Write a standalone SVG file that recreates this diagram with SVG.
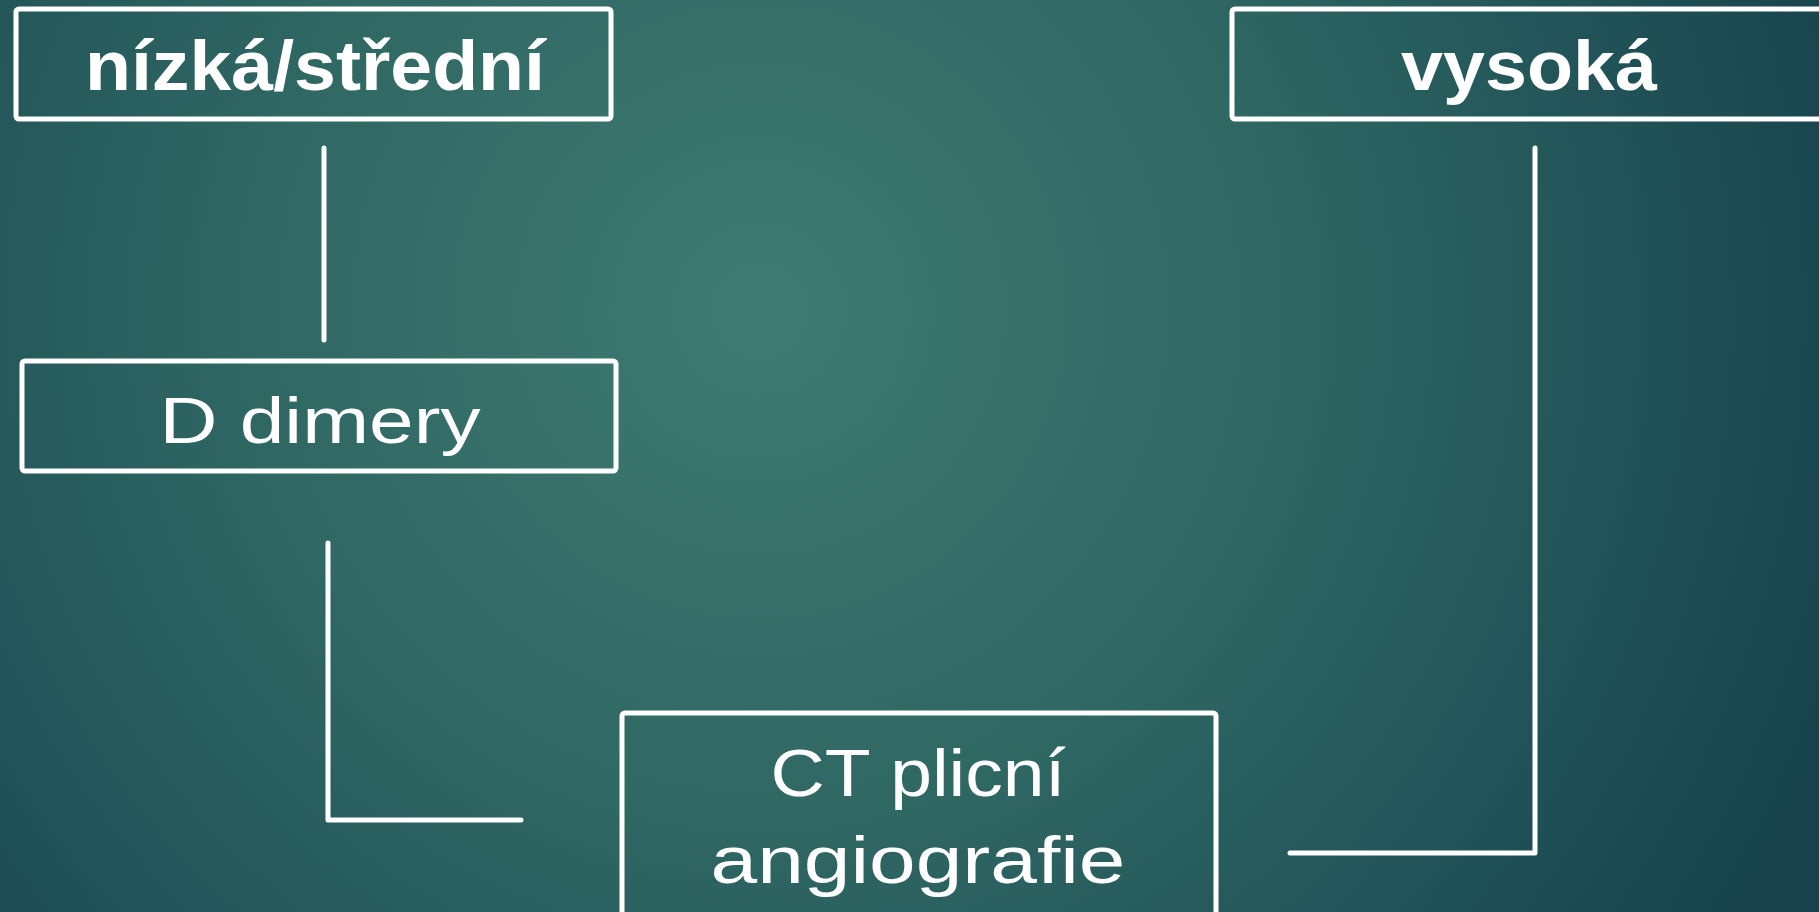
<svg xmlns="http://www.w3.org/2000/svg" width="1819" height="912" viewBox="0 0 1819 912">
<defs>
<radialGradient id="bg" cx="760" cy="310" r="1150" gradientUnits="userSpaceOnUse">
<stop offset="0" stop-color="#3f7b71"/>
<stop offset="0.45" stop-color="#2f6763"/>
<stop offset="0.8" stop-color="#1f5056"/>
<stop offset="1" stop-color="#17424b"/>
</radialGradient>
<style>
.box{fill:none;stroke:#ffffff;stroke-width:5}
.ln{fill:none;stroke:#ffffff;stroke-width:5;stroke-linecap:round;stroke-linejoin:round}
.hd{font-family:"Liberation Sans",Arial,sans-serif;font-weight:bold;fill:#ffffff;text-anchor:middle}
.tx{font-family:"Liberation Sans",Arial,sans-serif;fill:#ffffff;text-anchor:middle}
</style>
</defs>
<rect x="0" y="0" width="1819" height="912" fill="url(#bg)"/>
<g id="connectors">
<path class="ln" d="M324 148 V340"/>
<path class="ln" d="M328 543 V820 H521"/>
<path class="ln" d="M1535 148 V853 H1290"/>
</g>
<g id="node-nizka">
<rect class="box" x="16" y="9" width="595" height="110" rx="3"/>
<text class="hd" x="315" y="90" font-size="70" textLength="460" lengthAdjust="spacingAndGlyphs">nízká/střední</text>
</g>
<g id="node-vysoka">
<rect class="box" x="1232" y="9" width="620" height="110" rx="3"/>
<text class="hd" x="1529" y="90" font-size="70" textLength="256" lengthAdjust="spacingAndGlyphs">vysoká</text>
</g>
<g id="node-ddimery">
<rect class="box" x="22" y="361" width="594" height="110" rx="3"/>
<text class="tx" x="320" y="443" font-size="64" textLength="321" lengthAdjust="spacingAndGlyphs">D dimery</text>
</g>
<g id="node-ct">
<rect class="box" x="622" y="713" width="594" height="210" rx="3"/>
<text class="tx" x="918" y="796" font-size="66" textLength="295" lengthAdjust="spacingAndGlyphs">CT plicní</text>
<text class="tx" x="918" y="883" font-size="66" textLength="415" lengthAdjust="spacingAndGlyphs">angiografie</text>
</g>
</svg>
